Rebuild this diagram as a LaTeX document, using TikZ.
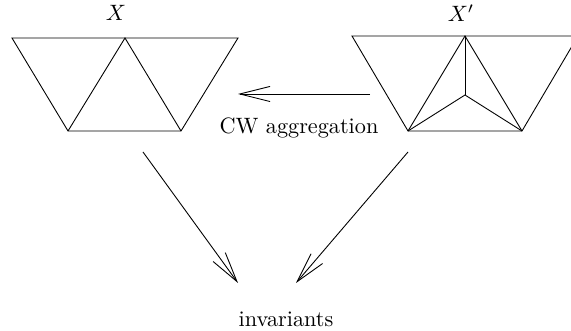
\documentclass[tikz,border=0pt]{standalone}
\usetikzlibrary{arrows.meta}
\tikzset{
  bararrow/.style={-{Straight Barb[length=13.6pt,width=6.8pt,line width=0.4pt]}, line width=0.4pt},
  edge/.style={line width=0.4pt}
}

\begin{document}
\begin{tikzpicture}[x=0.45pt, y=-0.45pt]
			%%%%% START %%%%%
			\useasboundingbox (0, 0) rectangle (571, 331);
			
			% left complex
			\coordinate (a1) at (12, 38);
			\coordinate (a2) at (125, 38);
			\coordinate (a3) at (238, 38);
			\coordinate (a4) at (68, 131);
			\coordinate (a5) at (181, 131);
			\node (X) at (116, 13) {$X$};
			
			\draw[edge] (a1) -- (a3) -- (a5) -- (a4) -- cycle;
			\draw[edge] (a4) -- (a2) -- (a5);
			
			% right complex
			\coordinate (b1) at (352, 36);
			\coordinate (b2) at (465, 36);
			\coordinate (b3) at (578, 36);
			\coordinate (b4) at (408, 131);
			\coordinate (b5) at (522, 131);
			\coordinate (bc) at (465, 95);
			\node (Xp) at (461, 13) {$X'$};
			
			\draw[edge] (b1) -- (b3) -- (b5) -- (b4) -- cycle;
			\draw[edge] (b4) -- (b2) -- (b5);
			\draw[edge] (b2) -- (bc);
			\draw[edge] (b4) -- (bc) -- (b5);
			
			% aggregation
			\coordinate (h1) at (370, 94);
			\coordinate (h2) at (238, 94);
			\draw[bararrow] (h1) -- (h2);
			\node (cw) at (299, 128) {CW aggregation};
			
			% invariants
			\node (inv) at (286, 319) {invariants};
			\coordinate (l1) at (143, 152);
			\coordinate (l2) at (238, 283);
			\coordinate (r1) at (408, 152);
			\coordinate (r2) at (296, 283);
			\draw[bararrow] (l1) -- (l2);
			\draw[bararrow] (r1) -- (r2);
			
			%%%%% END %%%%%
		\end{tikzpicture}
\end{document}
